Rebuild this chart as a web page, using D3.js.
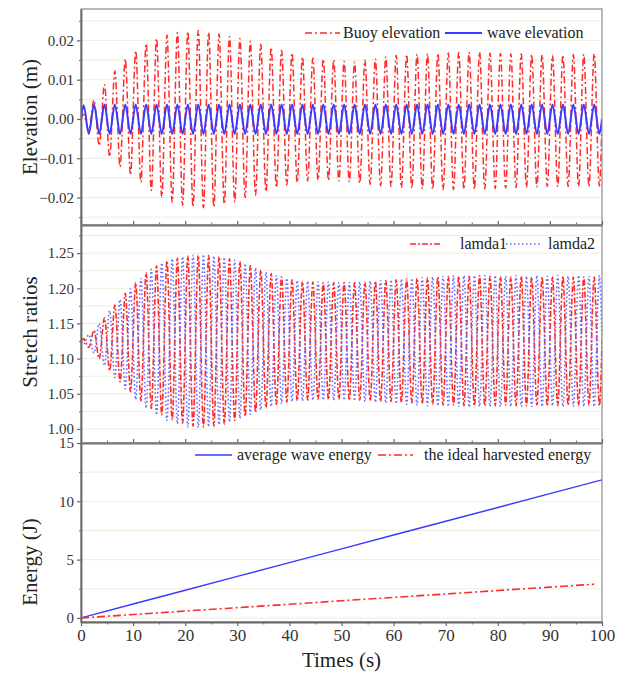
<!DOCTYPE html>
<html>
<head>
<meta charset="utf-8">
<script src="https://cdn.jsdelivr.net/npm/d3@7"></script>
<style>
  body { margin: 0; background: #fff; font-family: "Liberation Serif", Tinos, "Nimbus Roman", "Nimbus Roman No9 L", FreeSerif, "Noto Serif", "DejaVu Serif", Times, serif; }
  svg { display: block; }
  svg text { font-family: "Liberation Serif", Tinos, "Nimbus Roman", "Nimbus Roman No9 L", FreeSerif, "Noto Serif", "DejaVu Serif", Times, serif !important; fill: #222; }
</style>
</head>
<body>
<svg id="chart" width="626" height="673"></svg>
<script>
// ---- data -------------------------------------------------------------
// Times (s) of the start, every turning point of the oscillations, and the end.
const extremaTimes = [
  0,
  0.5, 1.5, 2.5, 3.5, 4.5, 5.5, 6.5, 7.5, 8.5, 9.5,
  10.5, 11.5, 12.5, 13.5, 14.5, 15.5, 16.5, 17.5, 18.5, 19.5,
  20.5, 21.5, 22.5, 23.5, 24.5, 25.5, 26.5, 27.5, 28.5, 29.5,
  30.5, 31.5, 32.5, 33.5, 34.5, 35.5, 36.5, 37.5, 38.5, 39.5,
  40.5, 41.5, 42.5, 43.5, 44.5, 45.5, 46.5, 47.5, 48.5, 49.5,
  50.5, 51.5, 52.5, 53.5, 54.5, 55.5, 56.5, 57.5, 58.5, 59.5,
  60.5, 61.5, 62.5, 63.5, 64.5, 65.5, 66.5, 67.5, 68.5, 69.5,
  70.5, 71.5, 72.5, 73.5, 74.5, 75.5, 76.5, 77.5, 78.5, 79.5,
  80.5, 81.5, 82.5, 83.5, 84.5, 85.5, 86.5, 87.5, 88.5, 89.5,
  90.5, 91.5, 92.5, 93.5, 94.5, 95.5, 96.5, 97.5, 98.5, 99.5,
  100
];

// Buoy elevation (m) at those times
const buoyElevation = [
  0,
  0.0012, -0.0028, 0.0048, -0.0068, 0.0088, -0.0096, 0.0122, -0.0122, 0.0152, -0.0143,
  0.0174, -0.0161, 0.0192, -0.0182, 0.0205, -0.0199, 0.0214, -0.0212, 0.0220, -0.0220,
  0.0223, -0.0224, 0.0226, -0.0226, 0.0221, -0.0224, 0.0217, -0.0217, 0.0210, -0.0212,
  0.0205, -0.0200, 0.0198, -0.0194, 0.0190, -0.0185, 0.0182, -0.0175, 0.0175, -0.0168,
  0.0168, -0.0161, 0.0158, -0.0158, 0.0155, -0.0155, 0.0152, -0.0156, 0.0150, -0.0158,
  0.0147, -0.0160, 0.0145, -0.0163, 0.0150, -0.0166, 0.0153, -0.0170, 0.0158, -0.0172,
  0.0162, -0.0175, 0.0164, -0.0177, 0.0165, -0.0178, 0.0166, -0.0179, 0.0167, -0.0180,
  0.0168, -0.0180, 0.0169, -0.0179, 0.0170, -0.0179, 0.0170, -0.0178, 0.0168, -0.0177,
  0.0167, -0.0176, 0.0166, -0.0175, 0.0166, -0.0174, 0.0164, -0.0173, 0.0163, -0.0172,
  0.0162, -0.0172, 0.0163, -0.0172, 0.0164, -0.0172, 0.0165, -0.0172, 0.0166, -0.0171,
  0
];

// Incident wave elevation (m)
const waveElevation = [
  0,
  0.0035, -0.0038, 0.0037, -0.0038, 0.0037, -0.0038, 0.0037, -0.0038, 0.0037, -0.0038,
  0.0037, -0.0038, 0.0037, -0.0038, 0.0037, -0.0038, 0.0037, -0.0038, 0.0037, -0.0038,
  0.0037, -0.0038, 0.0037, -0.0038, 0.0037, -0.0038, 0.0037, -0.0038, 0.0037, -0.0038,
  0.0037, -0.0038, 0.0037, -0.0038, 0.0037, -0.0038, 0.0037, -0.0038, 0.0037, -0.0038,
  0.0037, -0.0038, 0.0037, -0.0038, 0.0037, -0.0038, 0.0037, -0.0038, 0.0037, -0.0038,
  0.0037, -0.0038, 0.0037, -0.0038, 0.0037, -0.0038, 0.0037, -0.0038, 0.0037, -0.0038,
  0.0037, -0.0038, 0.0037, -0.0038, 0.0037, -0.0038, 0.0037, -0.0038, 0.0037, -0.0038,
  0.0037, -0.0038, 0.0037, -0.0038, 0.0037, -0.0038, 0.0037, -0.0038, 0.0037, -0.0038,
  0.0037, -0.0038, 0.0037, -0.0038, 0.0037, -0.0038, 0.0037, -0.0038, 0.0037, -0.0038,
  0.0037, -0.0038, 0.0037, -0.0038, 0.0037, -0.0038, 0.0037, -0.0038, 0.0037, -0.0038,
  0
];

// Stretch ratio of the first membrane
const lamda1 = [
  1.125,
  1.128, 1.116, 1.140, 1.100, 1.158, 1.083, 1.176, 1.067, 1.193, 1.053,
  1.208, 1.040, 1.222, 1.029, 1.232, 1.020, 1.239, 1.013, 1.243, 1.008,
  1.246, 1.004, 1.247, 1.003, 1.247, 1.004, 1.245, 1.007, 1.242, 1.012,
  1.238, 1.018, 1.232, 1.024, 1.226, 1.030, 1.221, 1.035, 1.216, 1.038,
  1.212, 1.040, 1.210, 1.041, 1.209, 1.042, 1.208, 1.042, 1.208, 1.042,
  1.208, 1.041, 1.208, 1.041, 1.209, 1.040, 1.210, 1.039, 1.211, 1.039,
  1.212, 1.038, 1.213, 1.037, 1.214, 1.036, 1.215, 1.035, 1.216, 1.034,
  1.217, 1.034, 1.217, 1.033, 1.217, 1.033, 1.218, 1.033, 1.217, 1.033,
  1.217, 1.034, 1.216, 1.033, 1.217, 1.033, 1.216, 1.034, 1.216, 1.033,
  1.216, 1.033, 1.217, 1.034, 1.216, 1.033, 1.216, 1.034, 1.216, 1.033,
  1.125
];

// Stretch ratio of the second membrane
const lamda2 = [
  1.125,
  1.121, 1.134, 1.108, 1.150, 1.090, 1.168, 1.073, 1.184, 1.057, 1.199,
  1.042, 1.214, 1.030, 1.227, 1.020, 1.236, 1.012, 1.242, 1.007, 1.245,
  1.003, 1.247, 1.002, 1.248, 1.003, 1.246, 1.006, 1.244, 1.010, 1.240,
  1.015, 1.235, 1.021, 1.229, 1.027, 1.223, 1.032, 1.218, 1.036, 1.214,
  1.039, 1.211, 1.040, 1.210, 1.041, 1.209, 1.041, 1.209, 1.041, 1.208,
  1.041, 1.208, 1.040, 1.209, 1.039, 1.210, 1.038, 1.211, 1.037, 1.212,
  1.036, 1.213, 1.035, 1.214, 1.034, 1.215, 1.033, 1.216, 1.033, 1.217,
  1.032, 1.218, 1.032, 1.218, 1.031, 1.218, 1.032, 1.218, 1.032, 1.218,
  1.032, 1.217, 1.032, 1.218, 1.032, 1.217, 1.032, 1.218, 1.032, 1.217,
  1.033, 1.218, 1.032, 1.217, 1.032, 1.218, 1.032, 1.217, 1.032, 1.218,
  1.125
];

// Energies (J)
const waveEnergyTimes = [0, 10, 20, 30, 40, 50, 60, 70, 80, 90, 100];
const averageWaveEnergy = [0, 1.19, 2.37, 3.56, 4.74, 5.92, 7.11, 8.29, 9.47, 10.66, 11.84];
const harvestTimes = [0, 10, 20, 30, 40, 50, 60, 70, 80, 90, 98.5];
const harvestedEnergy = [0, 0.29, 0.59, 0.88, 1.17, 1.47, 1.76, 2.05, 2.35, 2.64, 2.89];

// Tick values
const timeTicks = [0, 10, 20, 30, 40, 50, 60, 70, 80, 90, 100];
const timeMinorTicks = [5, 15, 25, 35, 45, 55, 65, 75, 85, 95];
const elevationTicks = [-0.02, -0.01, 0, 0.01, 0.02];
const elevationMinorTicks = [-0.025, -0.015, -0.005, 0.005, 0.015, 0.025];
const stretchTicks = [1.00, 1.05, 1.10, 1.15, 1.20, 1.25];
const stretchMinorTicks = [1.025, 1.075, 1.125, 1.175, 1.225, 1.275];
const energyTicks = [0, 5, 10, 15];
const energyMinorTicks = [2.5, 7.5, 12.5];

// ---- layout -----------------------------------------------------------
const SERIF = "'Liberation Serif', Tinos, 'Nimbus Roman', FreeSerif, 'Noto Serif', 'DejaVu Serif', Times, serif";
const svg = d3.select("#chart");
const left = 81, right = 602;
const x = d3.scaleLinear().domain([0, 100]).range([left, right]);

const RED = "#ff2a2a";
const BLUE = "#3a3aff";
const LIGHT_BLUE = "#6a6aff";
const AXIS = "#666";
const GRID = "#efeedb";

const panels = [
  {
    id: "elev", top: 9, bottom: 225, domain: [-0.027, 0.028],
    ticks: elevationTicks, minor: elevationMinorTicks, fmt: d3.format(".2f"),
    title: "Elevation (m)", titleY: 117
  },
  {
    id: "stretch", top: 225, bottom: 443, domain: [0.98, 1.29],
    ticks: stretchTicks, minor: stretchMinorTicks, fmt: d3.format(".2f"),
    title: "Stretch ratios", titleY: 332
  },
  {
    id: "energy", top: 443, bottom: 622, domain: [-0.35, 15],
    ticks: energyTicks, minor: energyMinorTicks, fmt: d3.format("d"),
    title: "Energy (J)", titleY: 562
  }
];

panels.forEach(p => {
  p.y = d3.scaleLinear().domain(p.domain).range([p.bottom, p.top]);
});

const defs = svg.append("defs");
panels.forEach(p => {
  defs.append("clipPath").attr("id", "clip-" + p.id)
    .append("rect").attr("x", left).attr("y", p.top)
    .attr("width", right - left).attr("height", p.bottom - p.top);
});

// gridlines
panels.forEach(p => {
  svg.append("g").selectAll("line")
    .data(p.ticks.concat(p.minor).filter(v => p.y(v) > p.top + 1 && p.y(v) < p.bottom - 1))
    .join("line")
    .attr("x1", left).attr("x2", right)
    .attr("y1", d => p.y(d)).attr("y2", d => p.y(d))
    .attr("stroke", GRID).attr("stroke-width", 1);
});

// ---- series -----------------------------------------------------------
function seriesPath(p, times, values, style) {
  const line = d3.line()
    .x(i => x(times[i]))
    .y(i => p.y(values[i]))
    .curve(style.curve || d3.curveMonotoneX);
  svg.append("path")
    .attr("clip-path", "url(#clip-" + p.id + ")")
    .attr("d", line(d3.range(times.length)))
    .attr("fill", "none")
    .attr("stroke", style.color)
    .attr("stroke-width", style.width)
    .attr("stroke-dasharray", style.dash || null)
    .attr("stroke-linejoin", "round");
}

const styles = {
  buoy: { color: RED, width: 1.5, dash: "7,3,2,3" },
  wave: { color: BLUE, width: 2 },
  lamda1: { color: RED, width: 1.6, dash: "6,2,2,2" },
  lamda2: { color: LIGHT_BLUE, width: 1.6, dash: "1.6,2.4" },
  avg: { color: BLUE, width: 1.4, curve: d3.curveLinear },
  harvest: { color: RED, width: 1.6, dash: "8,3,2,3", curve: d3.curveLinear }
};

const [pE, pS, pN] = panels;
seriesPath(pE, extremaTimes, buoyElevation, styles.buoy);
seriesPath(pE, extremaTimes, waveElevation, styles.wave);
seriesPath(pS, extremaTimes, lamda1, styles.lamda1);
seriesPath(pS, extremaTimes, lamda2, styles.lamda2);
seriesPath(pN, waveEnergyTimes, averageWaveEnergy, styles.avg);
seriesPath(pN, harvestTimes, harvestedEnergy, styles.harvest);

// ---- frames and axes --------------------------------------------------
panels.forEach((p, k) => {
  // frame
  svg.append("rect")
    .attr("x", left).attr("y", p.top)
    .attr("width", right - left).attr("height", p.bottom - p.top)
    .attr("fill", "none").attr("stroke", "#8a8a8a").attr("stroke-width", 1.2);

  // left axis, major
  const gy = svg.append("g").attr("transform", `translate(${left},0)`)
    .call(d3.axisLeft(p.y).tickValues(p.ticks).tickFormat(p.fmt).tickSize(4).tickSizeOuter(0).tickPadding(3));
  gy.attr("font-family", SERIF);
  gy.select(".domain").attr("stroke", AXIS).attr("stroke-width", 1.8);
  gy.selectAll(".tick line").attr("stroke", AXIS).attr("stroke-width", 1.2);
  gy.selectAll(".tick text").attr("font-size", 15).style("fill", "#333");

  // left axis, minor
  const gym = svg.append("g").attr("transform", `translate(${left},0)`)
    .call(d3.axisLeft(p.y).tickValues(p.minor.filter(v => p.y(v) >= p.top)).tickFormat("").tickSize(2).tickSizeOuter(0));
  gym.select(".domain").remove();
  gym.selectAll(".tick line").attr("stroke", AXIS).attr("stroke-width", 1);

  // time axis along the bottom edge of every panel
  const last = k === panels.length - 1;
  const axisGen = last ? d3.axisBottom(x) : d3.axisTop(x);
  const gx = svg.append("g").attr("transform", `translate(0,${p.bottom})`)
    .call(axisGen.tickValues(timeTicks).tickSize(4).tickSizeOuter(0).tickPadding(3)
      .tickFormat(last ? d3.format("d") : ""));
  gx.attr("font-family", SERIF);
  gx.select(".domain").attr("stroke", AXIS).attr("stroke-width", 1.8);
  gx.selectAll(".tick line").attr("stroke", AXIS).attr("stroke-width", 1.2);
  gx.selectAll(".tick text").attr("font-size", 17).style("fill", "#333");

  const gxm = svg.append("g").attr("transform", `translate(0,${p.bottom})`)
    .call((last ? d3.axisBottom(x) : d3.axisTop(x)).tickValues(timeMinorTicks).tickFormat("").tickSize(2.5).tickSizeOuter(0));
  gxm.select(".domain").remove();
  gxm.selectAll(".tick line").attr("stroke", AXIS).attr("stroke-width", 1);

  // y title
  svg.append("text")
    .attr("transform", `translate(37,${p.titleY}) rotate(-90)`)
    .attr("text-anchor", "middle")
    .attr("font-size", 21)
    .text(p.title);
});

// x title
svg.append("text")
  .attr("x", (left + right) / 2).attr("y", 667)
  .attr("text-anchor", "middle")
  .attr("font-size", 21)
  .text("Times (s)");

// ---- legends ----------------------------------------------------------
const legendItems = [
  { x1: 305, x2: 340, y: 33, tx: 343, ty: 38, style: styles.buoy, label: "Buoy elevation" },
  { x1: 445, x2: 482, y: 33, tx: 487, ty: 38, style: styles.wave, label: "wave elevation" },
  { x1: 410, x2: 442, y: 244, tx: 460, ty: 249, style: styles.lamda1, label: "lamda1" },
  { x1: 506, x2: 541, y: 244, tx: 548, ty: 249, style: styles.lamda2, label: "lamda2" },
  { x1: 195, x2: 232, y: 455, tx: 237, ty: 460, style: styles.avg, label: "average wave energy" },
  { x1: 378, x2: 413, y: 455, tx: 424, ty: 460, style: styles.harvest, label: "the ideal harvested energy" }
];

const lg = svg.append("g");
legendItems.forEach(d => {
  lg.append("line")
    .attr("x1", d.x1).attr("x2", d.x2).attr("y1", d.y).attr("y2", d.y)
    .attr("stroke", d.style.color).attr("stroke-width", d.style.width)
    .attr("stroke-dasharray", d.style.dash || null);
  lg.append("text")
    .attr("x", d.tx).attr("y", d.ty)
    .attr("font-size", 16)
    .text(d.label);
});
</script>
</body>
</html>
